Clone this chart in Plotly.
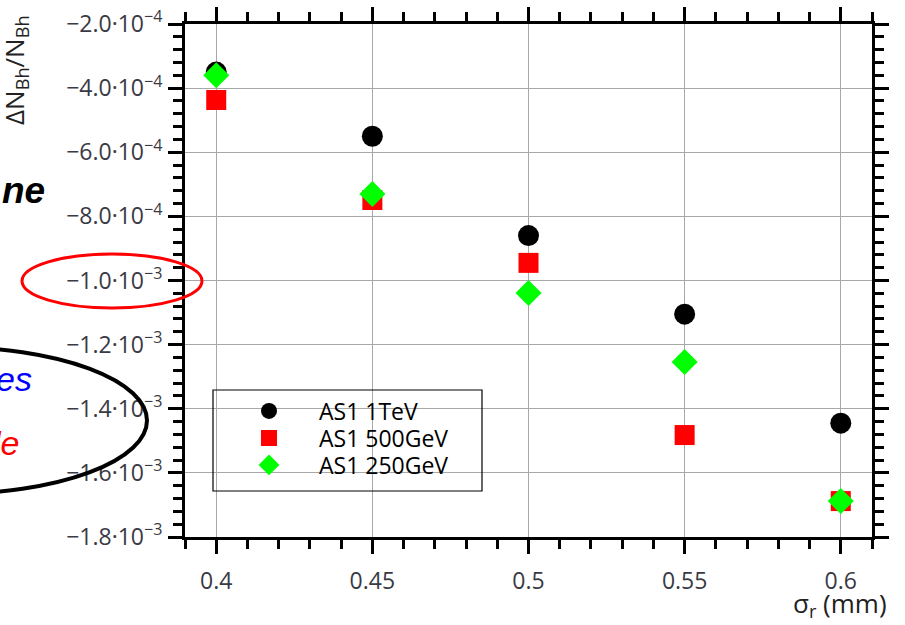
import plotly.graph_objects as go

sigma_r = [0.4, 0.45, 0.5, 0.55, 0.6]
as1_1tev = [-3.5e-4, -5.5e-4, -8.6e-4, -1.105e-3, -1.445e-3]
as1_500gev = [-4.37e-4, -7.49e-4, -9.45e-4, -1.482e-3, -1.688e-3]
as1_250gev = [-3.6e-4, -7.3e-4, -1.039e-3, -1.254e-3, -1.688e-3]

y_tickvals = [-2.0e-4, -4.0e-4, -6.0e-4, -8.0e-4, -1.0e-3, -1.2e-3, -1.4e-3, -1.6e-3, -1.8e-3]
y_ticktext = ["−2.0·10<sup>−4</sup>", "−4.0·10<sup>−4</sup>", "−6.0·10<sup>−4</sup>",
              "−8.0·10<sup>−4</sup>", "−1.0·10<sup>−3</sup>", "−1.2·10<sup>−3</sup>",
              "−1.4·10<sup>−3</sup>", "−1.6·10<sup>−3</sup>", "−1.8·10<sup>−3</sup>"]
x_tickvals = [0.4, 0.45, 0.5, 0.55, 0.6]
x_ticktext = ["0.4", "0.45", "0.5", "0.55", "0.6"]

W, H = 905, 625
L, R, T, B = 185, 872, 24, 537
pw, ph = R - L, B - T


def px(x):
    return (x - L) / pw


def py(y):
    return (B - y) / ph


fig = go.Figure()
fig.add_trace(go.Scatter(x=sigma_r, y=as1_1tev, mode="markers", name="AS1 1TeV",
                         legend="legend",
                         marker=dict(symbol="circle", size=21, color="black")))
fig.add_trace(go.Scatter(x=sigma_r, y=as1_500gev, mode="markers", name="AS1 500GeV",
                         legend="legend2",
                         marker=dict(symbol="square", size=20, color="#ff0000")))
fig.add_trace(go.Scatter(x=sigma_r, y=as1_250gev, mode="markers", name="AS1 250GeV",
                         legend="legend3",
                         marker=dict(symbol="diamond", size=20, color="#00ff00")))

tickfont = dict(family="Open Sans, Noto Sans, sans-serif", size=23, color="#3a3a44")
axis_common = dict(showline=True, linewidth=3, linecolor="black", mirror="ticks",
                   ticks="outside", ticklen=14, tickwidth=3, tickcolor="black",
                   showgrid=True, gridcolor="#a8a8a8", gridwidth=1, zeroline=False,
                   tickfont=tickfont, automargin=False)

fig.update_xaxes(range=[0.39, 0.61], tickvals=x_tickvals, ticktext=x_ticktext,
                 ticklabelstandoff=7,
                 minor=dict(ticks="outside", dtick=0.01, tick0=0.39, ticklen=9,
                            tickwidth=3, tickcolor="black", showgrid=False),
                 **axis_common)
fig.update_yaxes(range=[-1.8e-3, -2.0e-4], tickvals=y_tickvals, ticktext=y_ticktext,
                 ticklabelstandoff=1,
                 minor=dict(ticks="outside", dtick=4e-5, tick0=-1.8e-3, ticklen=9,
                            tickwidth=3, tickcolor="black", showgrid=False),
                 **axis_common)

shapes = [
    # legend frame
    dict(type="rect", xref="paper", yref="paper", x0=px(213), x1=px(482),
         y0=py(491), y1=py(390), line=dict(color="black", width=1.2)),
    # red ellipse
    dict(type="circle", xref="paper", yref="paper", x0=px(22), x1=px(202),
         y0=py(308), y1=py(254), line=dict(color="#ff0000", width=3)),
    # black ellipse
    dict(type="circle", xref="paper", yref="paper", x0=px(-247), x1=px(147),
         y0=py(494), y1=py(347), line=dict(color="black", width=4)),
]

annotations = [
    dict(text="ΔN<sub>Bh</sub>/N<sub>Bh</sub>", xref="paper", yref="paper",
         x=px(15), y=py(70), xanchor="center", yanchor="middle", textangle=-90,
         showarrow=False,
         font=dict(family="Open Sans, Noto Sans, sans-serif", size=26, color="#222")),
    dict(text="σ<sub>r</sub> (mm)", xref="paper", yref="paper",
         x=px(889), y=py(604), xanchor="right", yanchor="middle", showarrow=False,
         font=dict(family="Open Sans, Noto Sans, sans-serif", size=26, color="#222")),
    dict(text="<b><i>ne</i></b>", xref="paper", yref="paper", x=px(47), y=py(190),
         xanchor="right", yanchor="middle", showarrow=False,
         font=dict(family="Liberation Sans, Arial, sans-serif", size=37, color="black")),
    dict(text="<i>es</i>", xref="paper", yref="paper", x=px(34), y=py(379),
         xanchor="right", yanchor="middle", showarrow=False,
         font=dict(family="Liberation Sans, Arial, sans-serif", size=34, color="#0000ff")),
    dict(text="<i>le</i>", xref="paper", yref="paper", x=px(21), y=py(443),
         xanchor="right", yanchor="middle", showarrow=False,
         font=dict(family="Liberation Sans, Arial, sans-serif", size=34, color="#ff0000")),
]

legend_style = dict(xanchor="left", yanchor="middle", bgcolor="rgba(0,0,0,0)",
                    borderwidth=0, itemwidth=90,
                    font=dict(family="Open Sans, Noto Sans, sans-serif", size=23,
                              color="black"))

fig.update_layout(
    width=W, height=H,
    margin=dict(l=L, r=W - R, t=T, b=H - B, autoexpand=False),
    paper_bgcolor="white", plot_bgcolor="white",
    showlegend=True,
    legend=dict(x=px(219), y=py(411), **legend_style),
    legend2=dict(x=px(219), y=py(438), **legend_style),
    legend3=dict(x=px(219), y=py(465), **legend_style),
    shapes=shapes, annotations=annotations,
)

fig.write_html("out.html", config={"displayModeBar": False},
               post_script="document.body.style.margin='0';document.body.style.overflow='hidden';")
